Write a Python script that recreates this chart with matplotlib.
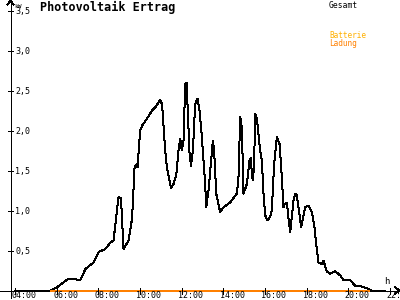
import matplotlib
matplotlib.use("Agg")
import matplotlib.pyplot as plt

# ---- data (time in hours, power in kW) ----
gesamt_hours = [4.00, 5.70, 6.02, 6.32, 6.58, 6.90, 7.14, 7.38, 7.77, 8.01, 8.34, 8.58, 8.73,
                8.97, 9.09, 9.21, 9.45, 9.62, 9.74, 9.86, 9.88, 10.01, 10.10, 10.34, 10.58,
                10.73, 10.97, 11.06, 11.21, 11.29, 11.49, 11.61, 11.74, 11.85, 11.93, 12.01,
                12.09, 12.17, 12.25, 12.28, 12.38, 12.45, 12.54, 12.65, 12.76, 12.86, 12.97,
                13.13, 13.18, 13.29, 13.50, 13.56, 13.66, 13.85, 14.01, 14.33, 14.65, 14.73,
                14.81, 14.89, 14.97, 15.13, 15.26, 15.32, 15.37, 15.42, 15.48, 15.53, 15.61,
                15.77, 15.85, 15.93, 16.01, 16.12, 16.25, 16.33, 16.44, 16.57, 16.70, 16.81,
                16.89, 16.94, 17.05, 17.13, 17.21, 17.29, 17.37, 17.45, 17.53, 17.64, 17.74,
                17.82, 17.93, 18.09, 18.25, 18.37, 18.46, 18.57, 18.73, 18.81, 18.97, 19.13,
                19.37, 19.61, 19.77, 19.85, 20.09, 20.33, 20.65, 20.96, 21.13, 21.77]
gesamt_kw = [0.00, 0.00, 0.04, 0.10, 0.15, 0.14, 0.13, 0.27, 0.35, 0.48, 0.52, 0.60, 0.625,
             1.17, 1.15, 0.52, 0.625, 0.90, 1.54, 1.58, 1.54, 2.00, 2.06, 2.15, 2.25,
             2.29, 2.38, 2.33, 1.75, 1.54, 1.28, 1.33, 1.44, 1.75, 1.90, 1.75,
             1.875, 2.58, 2.60, 2.33, 1.71, 1.56, 1.75, 2.33, 2.40, 2.25, 1.92,
             1.33, 1.04, 1.25, 1.875, 1.75, 1.21, 0.98, 1.04, 1.10, 1.21, 1.42,
             2.17, 2.04, 1.21, 1.33, 1.625, 1.66, 1.46, 1.375, 1.58, 2.21, 2.15,
             1.75, 1.625, 1.21, 0.94, 0.875, 0.92, 1.00, 1.58, 1.92, 1.83, 1.42,
             1.04, 1.08, 1.10, 0.90, 0.73, 0.92, 1.125, 1.21, 1.19, 0.98, 0.79,
             0.90, 1.04, 1.06, 0.98, 0.81, 0.58, 0.35, 0.33, 0.37, 0.24, 0.21,
             0.24, 0.19, 0.13, 0.125, 0.13, 0.06, 0.05, 0.02, 0.00, 0.00]
ladung_hours = [5.70, 21.05]
ladung_kw = [0.0, 0.0]

ytick_vals = [0.5, 1.0, 1.5, 2.0, 2.5, 3.0, 3.5]
ytick_labels = ["0,5", "1,0", "1,5", "2,0", "2,5", "3,0", "3,5"]
xtick_hours = [4, 6, 8, 10, 12, 14, 16, 18, 20, 22]
xtick_labels = ["04:00", "06:00", "08:00", "10:00", "12:00", "14:00", "16:00",
                "18:00", "20:00", "22:"]

# ---- layout (pixel geometry of the reference) ----
W, H = 400, 300
PX_PER_H = 20.83
H0_PX = 15.0      # x pixel of 04:00
Y0_PX = 290.5     # y pixel of 0 kW
PX_PER_KW = 80.0

fig = plt.figure(figsize=(4, 3), dpi=100)
fig.patch.set_facecolor("white")
ax = fig.add_axes([0, 0, 1, 1])
ax.set_xlim(4 - H0_PX / PX_PER_H, 4 + (W - H0_PX) / PX_PER_H)
ax.set_ylim(-(H - Y0_PX) / PX_PER_KW, Y0_PX / PX_PER_KW)
ax.axis("off")


def hx(px):
    return 4 + (px - H0_PX) / PX_PER_H


def vy(py):
    return (Y0_PX - py) / PX_PER_KW


MONO = "DejaVu Sans Mono"
LW = 0.72

# axes
ax.plot([hx(10.5), hx(10.5)], [vy(298), vy(1)], color="black", lw=LW, antialiased=False)
ax.plot([hx(7.5), hx(10.5), hx(13.5)], [vy(4.5), vy(1), vy(4.5)], color="black", lw=LW,
        antialiased=False)
ax.plot([hx(0), hx(399)], [0, 0], color="black", lw=LW, antialiased=False)
ax.plot([hx(395), hx(399), hx(395)], [vy(287), 0, vy(294)], color="black", lw=LW,
        antialiased=False)

# y ticks
for v, lab in zip(ytick_vals, ytick_labels):
    ax.plot([hx(8), hx(13)], [v, v], color="black", lw=LW, antialiased=False)
    ax.text(hx(15), v - 3.5 / PX_PER_KW, lab, fontsize=6, family=MONO, ha="left",
            va="baseline", color="black")
ax.text(hx(14.5), vy(7.5), "kW", fontsize=4.5, family=MONO, ha="left", va="baseline")

# x ticks
for hr, lab in zip(xtick_hours, xtick_labels):
    ax.plot([hr, hr], [vy(287.5), vy(293.5)], color="black", lw=LW, antialiased=False,
            zorder=5)
    ax.text(hr - 3.5 / PX_PER_H, vy(298.5), lab, fontsize=6, family=MONO, ha="left",
            va="baseline", color="black", zorder=6)
ax.text(hx(384), vy(283.5), "h", fontsize=6.5, family=MONO, ha="left", va="baseline")

# series
ax.plot(gesamt_hours, gesamt_kw, color="black", lw=LW, antialiased=False, zorder=3)
ax.plot(ladung_hours, ladung_kw, color="#FF8000", lw=1.2, antialiased=False, zorder=4,
        solid_capstyle="butt")

# title & legend
ax.text(hx(40), vy(11.5), "Photovoltaik Ertrag", fontsize=8.5, family=MONO,
        fontweight="bold", ha="left", va="baseline", color="black")
ax.text(hx(329), vy(7.5), "Gesamt", fontsize=5.8, family=MONO, ha="left", va="baseline",
        color="black")
ax.text(hx(329), vy(38.5), "Batterie", fontsize=5.6, family=MONO, ha="left", va="baseline",
        color="#FFB000")
ax.text(hx(329), vy(46.5), "Ladung", fontsize=5.6, family=MONO, ha="left", va="baseline",
        color="#FF8000")

fig.savefig("out.png", dpi=100, facecolor="white")
